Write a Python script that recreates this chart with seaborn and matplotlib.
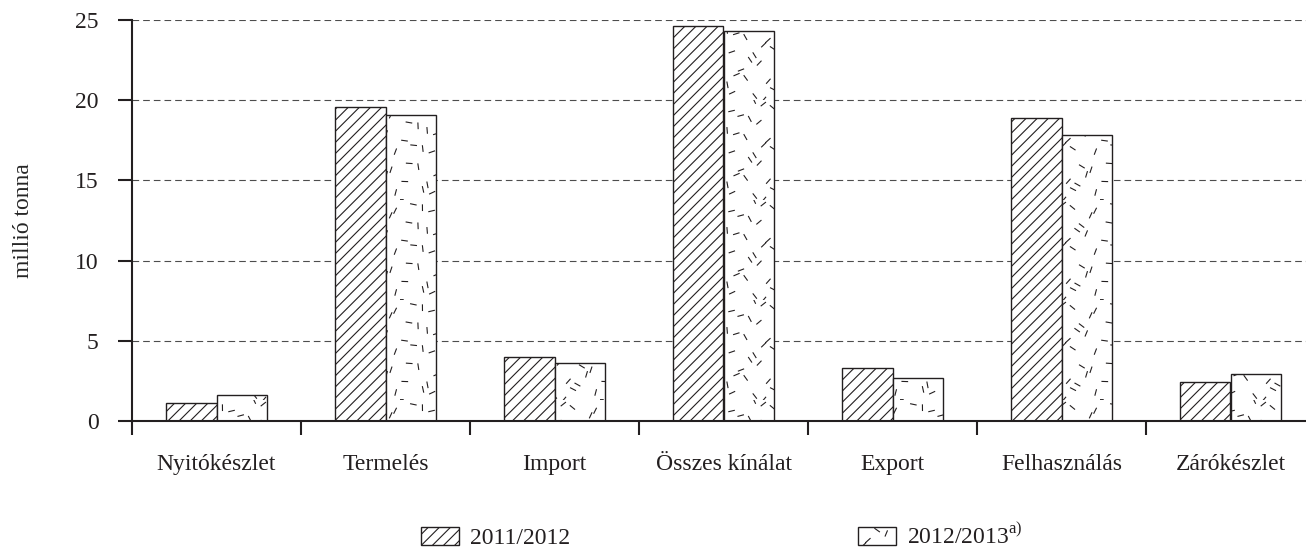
import warnings

import numpy as np
import pandas as pd
import matplotlib
matplotlib.use("Agg")
import matplotlib.pyplot as plt
import matplotlib.hatch as mhatch
import matplotlib.patches as mpatches
from matplotlib.path import Path
import seaborn as sns

warnings.filterwarnings("ignore")

# ---------- DATA ----------
CATEGORIES = ["Nyitókészlet", "Termelés", "Import", "Összes kínálat",
              "Export", "Felhasználás", "Zárókészlet"]
SEASONS = ["2011/2012", "2012/2013"]
VALUES_2011 = [1.1, 19.6, 4.0, 24.65, 3.3, 18.9, 2.45]
VALUES_2012 = [1.65, 19.1, 3.6, 24.3, 2.65, 17.8, 2.9]
Y_TICKS = [0, 5, 10, 15, 20, 25]
Y_LABEL = "millió tonna"
LEGEND_LABELS = ["2011/2012", r"2012/2013$^{\mathrm{a)}}$"]

# ---------- STYLE ----------
W_PX, H_PX = 1306, 552
INK = "#231f20"
HATCHES = ["///", "~"]

sns.set_theme(style="ticks")
plt.rcParams["font.family"] = ["Liberation Serif", "DejaVu Serif"]
plt.rcParams["mathtext.fontset"] = "custom"
plt.rcParams["mathtext.rm"] = "Liberation Serif"
plt.rcParams["hatch.linewidth"] = 0.8
plt.rcParams["text.color"] = INK
plt.rcParams["xtick.color"] = INK
plt.rcParams["ytick.color"] = INK


class DashHatch(mhatch.HatchPatternBase):
    """Short dashes at uneven angles for the '~' hatch (the 2012/2013 bars)."""
    cells = 7

    def __init__(self, hatch, density):
        self.num_dashes = hatch.count("~") * self.cells ** 2
        self.num_vertices = self.num_dashes * 2

    def set_vertices_and_codes(self, vertices, codes):
        n = self.cells
        k = np.arange(self.num_dashes)
        gx, gy = k % n, (k // n) % n
        # quasi-random (golden ratio) offsets so the dashes don't line up
        jx = (k * 0.6180339887) % 1.0 - 0.5
        jy = (k * 0.7548776662) % 1.0 - 0.5
        ang = ((k * 0.5698402910) % 1.0) * np.pi
        cx = (gx + 0.5 + 0.95 * jx) / n
        cy = (gy + 0.5 + 0.95 * jy) / n
        half = 0.028
        dx, dy = half * np.cos(ang), half * np.sin(ang)
        vertices[0::2, 0] = cx - dx
        vertices[0::2, 1] = cy - dy
        vertices[1::2, 0] = cx + dx
        vertices[1::2, 1] = cy + dy
        codes[0::2] = Path.MOVETO
        codes[1::2] = Path.LINETO


mhatch._hatch_types.append(DashHatch)

# ---------- PLOT ----------
df = pd.DataFrame({
    "kategoria": CATEGORIES * 2,
    "ertek": VALUES_2011 + VALUES_2012,
    "ev": [SEASONS[0]] * len(CATEGORIES) + [SEASONS[1]] * len(CATEGORIES),
})

fig = plt.figure(figsize=(W_PX / 100, H_PX / 100), dpi=100)
left, right, bottom, top = 132, 1315, 421, 20
ax = fig.add_axes([left / W_PX, 1 - bottom / H_PX,
                   (right - left) / W_PX, (bottom - top) / H_PX])

sns.barplot(data=df, x="kategoria", y="ertek", hue="ev",
            palette=["white", "white"], saturation=1, width=0.6,
            edgecolor=INK, linewidth=1.0, errorbar=None, legend=False, ax=ax)

for container, hatch in zip(ax.containers, HATCHES):
    for bar in container:
        bar.set_hatch(hatch)

ax.set_ylim(0, 25)
ax.set_yticks(Y_TICKS)
ax.set_xlim(-0.5, len(CATEGORIES) - 0.5)
ax.set_xticks(range(len(CATEGORIES)))
ax.set_xticklabels(CATEGORIES)
ax.set_xticks(np.arange(-0.5, len(CATEGORIES)), minor=True)

ax.tick_params(axis="y", length=10, width=1.5, pad=14, labelsize=17)
ax.tick_params(axis="x", which="major", length=0, pad=24, labelsize=17)
ax.tick_params(axis="x", which="minor", length=10, width=1.5)

ax.set_xlabel("")
ax.set_ylabel(Y_LABEL, fontsize=17)
ax.yaxis.set_label_coords(-0.083, 0.5)

sns.despine(ax=ax)
for side in ["left", "bottom"]:
    ax.spines[side].set_linewidth(1.5)
    ax.spines[side].set_color(INK)

ax.yaxis.grid(True, linestyle=(0, (6, 3.6)), color="#4d4d4d", linewidth=0.8)
ax.xaxis.grid(False)
ax.set_axisbelow(True)

handles = [mpatches.Patch(facecolor="white", edgecolor=INK, linewidth=1.0, hatch=h)
           for h in HATCHES]
fig.legend(handles, LEGEND_LABELS, loc="center",
           bbox_to_anchor=(722 / W_PX, 1 - 536 / H_PX), ncol=2, frameon=False,
           fontsize=17, handlelength=1.6, handleheight=0.8, handletextpad=0.47,
           columnspacing=12.2, borderpad=0, borderaxespad=0)

fig.savefig("out.png", dpi=100)
plt.close(fig)
